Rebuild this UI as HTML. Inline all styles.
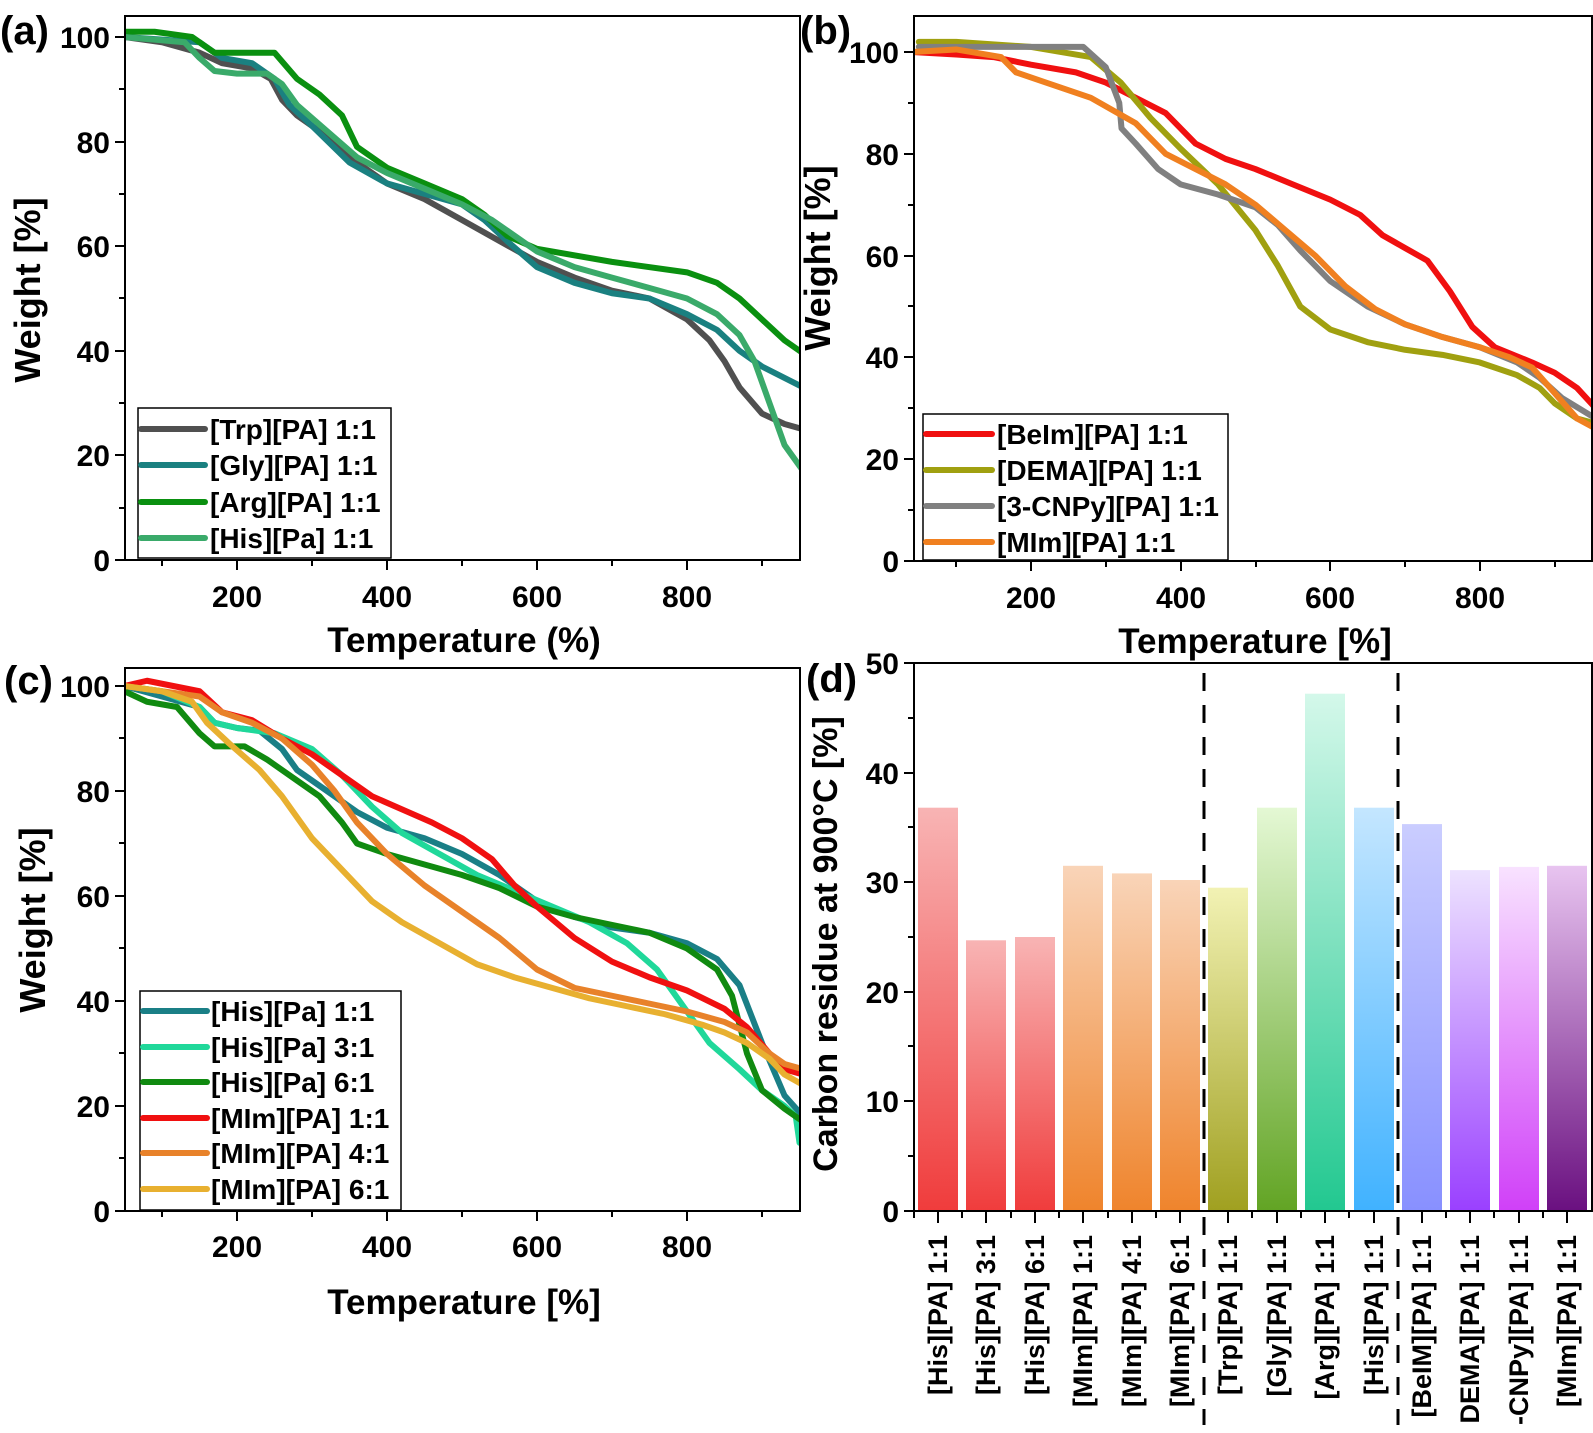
<!DOCTYPE html>
<html><head><meta charset="utf-8"><style>
html,body{margin:0;padding:0;background:#fff}
text{font-family:"Liberation Sans",Arial,sans-serif;font-weight:bold;fill:#000}
.tl{font-size:30px}
.al{font-size:35px}
.wl{font-size:36px}
.cl{font-size:34px}
.lg{font-size:28px}
.pl{font-size:40px}
.bl{font-size:27px}
polyline{fill:none;stroke-linejoin:round;stroke-linecap:round}
</style></head><body>
<svg width="1593" height="1428" viewBox="0 0 1593 1428" xmlns="http://www.w3.org/2000/svg">
<defs>
<clipPath id="ca"><rect x="125" y="16" width="675" height="544"/></clipPath>
<clipPath id="cb"><rect x="914" y="16" width="678" height="545"/></clipPath>
<clipPath id="cc"><rect x="125" y="668" width="675" height="543"/></clipPath>
<linearGradient id="g1" x1="0" y1="0" x2="0" y2="1"><stop offset="0" stop-color="#f8b4b4"/><stop offset="1" stop-color="#f03c3c"/></linearGradient>
<linearGradient id="g2" x1="0" y1="0" x2="0" y2="1"><stop offset="0" stop-color="#f9d4b8"/><stop offset="1" stop-color="#ef842c"/></linearGradient>
<linearGradient id="g3" x1="0" y1="0" x2="0" y2="1"><stop offset="0" stop-color="#f2f2b4"/><stop offset="1" stop-color="#a0a020"/></linearGradient>
<linearGradient id="g4" x1="0" y1="0" x2="0" y2="1"><stop offset="0" stop-color="#e4f8d4"/><stop offset="1" stop-color="#62a424"/></linearGradient>
<linearGradient id="g5" x1="0" y1="0" x2="0" y2="1"><stop offset="0" stop-color="#d4f8ea"/><stop offset="1" stop-color="#22c890"/></linearGradient>
<linearGradient id="g6" x1="0" y1="0" x2="0" y2="1"><stop offset="0" stop-color="#c4e6ff"/><stop offset="1" stop-color="#40b2ff"/></linearGradient>
<linearGradient id="g7" x1="0" y1="0" x2="0" y2="1"><stop offset="0" stop-color="#cacdff"/><stop offset="1" stop-color="#8890ff"/></linearGradient>
<linearGradient id="g8" x1="0" y1="0" x2="0" y2="1"><stop offset="0" stop-color="#ede2ff"/><stop offset="1" stop-color="#9a40ff"/></linearGradient>
<linearGradient id="g9" x1="0" y1="0" x2="0" y2="1"><stop offset="0" stop-color="#f8e2ff"/><stop offset="1" stop-color="#d040f8"/></linearGradient>
<linearGradient id="g10" x1="0" y1="0" x2="0" y2="1"><stop offset="0" stop-color="#e8c4f0"/><stop offset="1" stop-color="#6a1080"/></linearGradient>
</defs>

<!-- ===== Panel (a) ===== -->
<g clip-path="url(#ca)">
<g transform="matrix(0.75 0 0 -5.23 87 560)">
<polyline vector-effect="non-scaling-stroke" stroke-width="6" stroke="#505050" points="50,100 100,99 150,97 180,95 220,94 245,92 260,88 280,85 320,81 360,76 400,72 450,69 500,65 550,61 600,57 650,54 700,51.5 750,50 800,46 830,42 850,38 870,33 900,28 930,26 955,25"/>
<polyline vector-effect="non-scaling-stroke" stroke-width="6" stroke="#1a8080" points="50,100 150,99 180,96 220,95 250,92 270,87 300,83 350,76 400,72 450,70 500,68 530,65 560,61 600,56 650,53 700,51 750,50 800,47 840,44 870,40 900,37 955,33"/>
<polyline vector-effect="non-scaling-stroke" stroke-width="6" stroke="#0a9010" points="50,101 90,101 140,100 170,97 200,97 250,97 280,92 310,89 340,85 360,79 400,75 450,72 500,69 530,66 560,62 600,59.5 700,57 800,55 840,53 870,50 900,46 930,42 955,39.5"/>
<polyline vector-effect="non-scaling-stroke" stroke-width="6" stroke="#3aaa6a" points="50,100 130,99 150,96 170,93.5 200,93 240,93 260,91 280,87 320,82 360,77 400,74 450,71 500,68 540,65 570,62 600,59 650,56 700,54 750,52 800,50 840,47 870,43 890,38 910,30 930,22 955,17"/>
</g></g>
<rect x="125" y="16" width="675" height="544" fill="none" stroke="#000" stroke-width="2"/>
<g stroke="#000" stroke-width="2">
<line x1="115" y1="560" x2="125" y2="560"/><line x1="115" y1="455" x2="125" y2="455"/><line x1="115" y1="351" x2="125" y2="351"/><line x1="115" y1="246" x2="125" y2="246"/><line x1="115" y1="142" x2="125" y2="142"/><line x1="115" y1="37" x2="125" y2="37"/>
<line x1="119" y1="508" x2="125" y2="508"/><line x1="119" y1="403" x2="125" y2="403"/><line x1="119" y1="298" x2="125" y2="298"/><line x1="119" y1="194" x2="125" y2="194"/><line x1="119" y1="89" x2="125" y2="89"/>
<line x1="237" y1="560" x2="237" y2="570"/><line x1="387" y1="560" x2="387" y2="570"/><line x1="537" y1="560" x2="537" y2="570"/><line x1="687" y1="560" x2="687" y2="570"/>
<line x1="162" y1="560" x2="162" y2="566"/><line x1="312" y1="560" x2="312" y2="566"/><line x1="462" y1="560" x2="462" y2="566"/><line x1="612" y1="560" x2="612" y2="566"/><line x1="762" y1="560" x2="762" y2="566"/>
</g>
<g text-anchor="end">
<text x="110" y="571" class="tl">0</text><text x="110" y="466" class="tl">20</text><text x="110" y="362" class="tl">40</text><text x="110" y="257" class="tl">60</text><text x="110" y="153" class="tl">80</text><text x="110" y="48" class="tl">100</text>
</g>
<g text-anchor="middle">
<text x="237" y="607" class="tl">200</text><text x="387" y="607" class="tl">400</text><text x="537" y="607" class="tl">600</text><text x="687" y="607" class="tl">800</text>
<text x="464" y="652" class="al">Temperature (%)</text>
<text transform="translate(40 290) rotate(-90)" class="wl">Weight [%]</text>
</g>
<text x="0" y="44" class="pl">(a)</text>
<rect x="138" y="408" width="253" height="150" fill="#fff" stroke="#000" stroke-width="1.5"/>
<g stroke-width="6" stroke-linecap="round">
<line x1="141" y1="429" x2="205" y2="429" stroke="#505050"/>
<line x1="141" y1="465" x2="205" y2="465" stroke="#1a8080"/>
<line x1="141" y1="502" x2="205" y2="502" stroke="#0a9010"/>
<line x1="141" y1="538" x2="205" y2="538" stroke="#3aaa6a"/>
</g>
<text x="210" y="439" class="lg">[Trp][PA] 1:1</text>
<text x="210" y="475" class="lg">[Gly][PA] 1:1</text>
<text x="210" y="512" class="lg">[Arg][PA] 1:1</text>
<text x="210" y="548" class="lg">[His][Pa] 1:1</text>

<!-- ===== Panel (b) ===== -->
<g clip-path="url(#cb)">
<g transform="matrix(0.748 0 0 -5.09 881.4 561)">
<polyline vector-effect="non-scaling-stroke" stroke-width="6" stroke="#f01010" points="40,100 100,99.5 150,99 200,97.5 260,96 300,94 340,91 380,88 420,82 460,79 500,77 550,74 600,71 640,68 670,64 700,61.5 730,59 760,53 790,46 820,42 870,39 900,37 930,34 955,30"/>
<polyline vector-effect="non-scaling-stroke" stroke-width="6" stroke="#a0a010" points="50,102 100,102 200,101 280,99 320,94 360,87 400,81 450,74 500,65 530,58 560,50 600,45.5 650,43 700,41.5 750,40.5 800,39 850,36.5 880,34 900,31 930,28 955,27"/>
<polyline vector-effect="non-scaling-stroke" stroke-width="6" stroke="#808080" points="50,101 100,101 200,101 270,101 300,97 318,90 321,85 340,82 370,77 400,74 450,72 500,69.5 530,66 560,61 600,55 650,50 700,46.5 750,44 800,42 850,39 880,36 910,32 955,28"/>
<polyline vector-effect="non-scaling-stroke" stroke-width="6" stroke="#f08020" points="40,100 100,100.5 160,99 180,96 220,94 280,91 340,86 380,80 420,77 460,74 500,70 540,65 580,60 620,54 660,49.5 700,46.5 750,44 800,42 840,40 870,38 900,33 930,28 955,26"/>
</g></g>
<rect x="914" y="16" width="678" height="545" fill="none" stroke="#000" stroke-width="2"/>
<g stroke="#000" stroke-width="2">
<line x1="904" y1="561" x2="914" y2="561"/><line x1="904" y1="459" x2="914" y2="459"/><line x1="904" y1="357" x2="914" y2="357"/><line x1="904" y1="256" x2="914" y2="256"/><line x1="904" y1="154" x2="914" y2="154"/><line x1="904" y1="52" x2="914" y2="52"/>
<line x1="908" y1="510" x2="914" y2="510"/><line x1="908" y1="408" x2="914" y2="408"/><line x1="908" y1="306" x2="914" y2="306"/><line x1="908" y1="205" x2="914" y2="205"/><line x1="908" y1="103" x2="914" y2="103"/>
<line x1="1031" y1="561" x2="1031" y2="571"/><line x1="1181" y1="561" x2="1181" y2="571"/><line x1="1330" y1="561" x2="1330" y2="571"/><line x1="1480" y1="561" x2="1480" y2="571"/>
<line x1="956" y1="561" x2="956" y2="567"/><line x1="1106" y1="561" x2="1106" y2="567"/><line x1="1256" y1="561" x2="1256" y2="567"/><line x1="1405" y1="561" x2="1405" y2="567"/><line x1="1555" y1="561" x2="1555" y2="567"/>
</g>
<g text-anchor="end">
<text x="899" y="572" class="tl">0</text><text x="899" y="470" class="tl">20</text><text x="899" y="368" class="tl">40</text><text x="899" y="267" class="tl">60</text><text x="899" y="165" class="tl">80</text><text x="899" y="63" class="tl">100</text>
</g>
<g text-anchor="middle">
<text x="1031" y="608" class="tl">200</text><text x="1181" y="608" class="tl">400</text><text x="1330" y="608" class="tl">600</text><text x="1480" y="608" class="tl">800</text>
<text x="1255" y="653" class="al">Temperature [%]</text>
<text transform="translate(830 258) rotate(-90)" class="wl">Weight [%]</text>
</g>
<text x="800" y="44" class="pl">(b)</text>
<rect x="923" y="414" width="305" height="146" fill="#fff" stroke="#000" stroke-width="1.5"/>
<g stroke-width="6" stroke-linecap="round">
<line x1="926" y1="434" x2="992" y2="434" stroke="#f01010"/>
<line x1="926" y1="470" x2="992" y2="470" stroke="#a0a010"/>
<line x1="926" y1="506" x2="992" y2="506" stroke="#808080"/>
<line x1="926" y1="542" x2="992" y2="542" stroke="#f08020"/>
</g>
<text x="997" y="444" class="lg">[BeIm][PA] 1:1</text>
<text x="997" y="480" class="lg">[DEMA][PA] 1:1</text>
<text x="997" y="516" class="lg">[3-CNPy][PA] 1:1</text>
<text x="997" y="552" class="lg">[MIm][PA] 1:1</text>

<!-- ===== Panel (c) ===== -->
<g clip-path="url(#cc)">
<g transform="matrix(0.75 0 0 -5.25 87 1211)">
<polyline vector-effect="non-scaling-stroke" stroke-width="6" stroke="#1a7f86" points="50,100 100,98 150,96 170,93 200,92 230,91.5 260,88 280,84 320,80 360,76 400,73 450,71 500,68 550,64 600,59 650,56 700,54 750,53 800,51 840,48 870,43 900,32 930,22 955,18"/>
<polyline vector-effect="non-scaling-stroke" stroke-width="6" stroke="#20d89a" points="50,100 100,99 150,96 170,93 200,92 250,91 300,88 340,83 380,77 420,72 470,68 520,64 570,61 620,58 670,55 720,51 760,46 800,38 830,32 870,27 900,23 930,20 945,18 950,13"/>
<polyline vector-effect="non-scaling-stroke" stroke-width="6" stroke="#108a10" points="50,99 80,97 120,96 150,91 170,88.5 210,88.5 240,86 280,82 310,79 340,74 360,70 400,68 450,66 500,64 550,61.5 600,58 650,56 700,54.5 750,53 800,50 840,46 860,41 880,30 900,23 930,19.5 955,17"/>
<polyline vector-effect="non-scaling-stroke" stroke-width="6" stroke="#f01010" points="50,100 80,101 150,99 180,95 220,93.5 260,90 300,87 340,83 380,79 420,76.5 460,74 500,71 540,67 570,62 600,58 650,52 700,47.5 750,44.5 800,42 850,38.5 880,35 910,30 930,27 955,26"/>
<polyline vector-effect="non-scaling-stroke" stroke-width="6" stroke="#e8822a" points="50,100 100,99 150,98 180,95 220,93 260,90 300,85 330,80 360,74 400,68 450,62 500,57 550,52 600,46 650,42.5 700,41 750,39.5 800,38 850,36 880,34 910,30 930,28 955,27"/>
<polyline vector-effect="non-scaling-stroke" stroke-width="6" stroke="#e8b030" points="50,100 100,99 140,97 160,93 190,89 230,84 260,79 300,71 340,65 380,59 420,55 470,51 520,47 570,44.5 620,42.5 670,40.5 720,39 770,37.5 820,35.5 850,34 880,32 910,29 930,26 955,24"/>
</g></g>
<rect x="125" y="668" width="675" height="543" fill="none" stroke="#000" stroke-width="2"/>
<g stroke="#000" stroke-width="2">
<line x1="115" y1="1211" x2="125" y2="1211"/><line x1="115" y1="1106" x2="125" y2="1106"/><line x1="115" y1="1001" x2="125" y2="1001"/><line x1="115" y1="896" x2="125" y2="896"/><line x1="115" y1="791" x2="125" y2="791"/><line x1="115" y1="686" x2="125" y2="686"/>
<line x1="119" y1="1158" x2="125" y2="1158"/><line x1="119" y1="1053" x2="125" y2="1053"/><line x1="119" y1="948" x2="125" y2="948"/><line x1="119" y1="843" x2="125" y2="843"/><line x1="119" y1="738" x2="125" y2="738"/>
<line x1="237" y1="1211" x2="237" y2="1221"/><line x1="387" y1="1211" x2="387" y2="1221"/><line x1="537" y1="1211" x2="537" y2="1221"/><line x1="687" y1="1211" x2="687" y2="1221"/>
<line x1="162" y1="1211" x2="162" y2="1217"/><line x1="312" y1="1211" x2="312" y2="1217"/><line x1="462" y1="1211" x2="462" y2="1217"/><line x1="612" y1="1211" x2="612" y2="1217"/><line x1="762" y1="1211" x2="762" y2="1217"/>
</g>
<g text-anchor="end">
<text x="110" y="1222" class="tl">0</text><text x="110" y="1117" class="tl">20</text><text x="110" y="1012" class="tl">40</text><text x="110" y="907" class="tl">60</text><text x="110" y="802" class="tl">80</text><text x="110" y="697" class="tl">100</text>
</g>
<g text-anchor="middle">
<text x="237" y="1257" class="tl">200</text><text x="387" y="1257" class="tl">400</text><text x="537" y="1257" class="tl">600</text><text x="687" y="1257" class="tl">800</text>
<text x="464" y="1314" class="al">Temperature [%]</text>
<text transform="translate(45 920) rotate(-90)" class="wl">Weight [%]</text>
</g>
<text x="4" y="694" class="pl">(c)</text>
<rect x="140" y="991" width="261" height="219" fill="#fff" stroke="#000" stroke-width="1.5"/>
<g stroke-width="6" stroke-linecap="round">
<line x1="143" y1="1011" x2="207" y2="1011" stroke="#1a7f86"/>
<line x1="143" y1="1047" x2="207" y2="1047" stroke="#20d89a"/>
<line x1="143" y1="1082" x2="207" y2="1082" stroke="#108a10"/>
<line x1="143" y1="1118" x2="207" y2="1118" stroke="#f01010"/>
<line x1="143" y1="1153" x2="207" y2="1153" stroke="#e8822a"/>
<line x1="143" y1="1189" x2="207" y2="1189" stroke="#e8b030"/>
</g>
<text x="211" y="1021" class="lg">[His][Pa] 1:1</text>
<text x="211" y="1057" class="lg">[His][Pa] 3:1</text>
<text x="211" y="1092" class="lg">[His][Pa] 6:1</text>
<text x="211" y="1128" class="lg">[MIm][PA] 1:1</text>
<text x="211" y="1163" class="lg">[MIm][PA] 4:1</text>
<text x="211" y="1199" class="lg">[MIm][PA] 6:1</text>

<!-- ===== Panel (d) ===== -->
<g>
<rect x="918" y="807.7" width="40" height="403.3" fill="url(#g1)"/>
<rect x="966" y="940.3" width="40" height="270.7" fill="url(#g1)"/>
<rect x="1015" y="937" width="40" height="274" fill="url(#g1)"/>
<rect x="1063" y="865.8" width="40" height="345.2" fill="url(#g2)"/>
<rect x="1112" y="873.4" width="40" height="337.6" fill="url(#g2)"/>
<rect x="1160" y="880" width="40" height="331" fill="url(#g2)"/>
<rect x="1208" y="887.7" width="40" height="323.3" fill="url(#g3)"/>
<rect x="1257" y="807.7" width="40" height="403.3" fill="url(#g4)"/>
<rect x="1305" y="693.7" width="40" height="517.3" fill="url(#g5)"/>
<rect x="1354" y="807.7" width="40" height="403.3" fill="url(#g6)"/>
<rect x="1402" y="824.1" width="40" height="386.9" fill="url(#g7)"/>
<rect x="1450" y="870.1" width="40" height="340.9" fill="url(#g8)"/>
<rect x="1499" y="866.9" width="40" height="344.1" fill="url(#g9)"/>
<rect x="1547" y="865.8" width="40" height="345.2" fill="url(#g10)"/>
</g>
<line x1="1204" y1="673" x2="1204" y2="1425" stroke="#000" stroke-width="3" stroke-dasharray="18,14"/>
<line x1="1398" y1="673" x2="1398" y2="1425" stroke="#000" stroke-width="3" stroke-dasharray="18,14"/>
<rect x="914" y="663" width="678" height="548" fill="none" stroke="#000" stroke-width="2"/>
<g stroke="#000" stroke-width="2">
<line x1="904" y1="1211" x2="914" y2="1211"/><line x1="904" y1="1101" x2="914" y2="1101"/><line x1="904" y1="992" x2="914" y2="992"/><line x1="904" y1="882" x2="914" y2="882"/><line x1="904" y1="773" x2="914" y2="773"/><line x1="904" y1="663" x2="914" y2="663"/>
<line x1="908" y1="1156" x2="914" y2="1156"/><line x1="908" y1="1046" x2="914" y2="1046"/><line x1="908" y1="937" x2="914" y2="937"/><line x1="908" y1="827" x2="914" y2="827"/><line x1="908" y1="718" x2="914" y2="718"/>
<line x1="938" y1="1211" x2="938" y2="1223"/><line x1="986" y1="1211" x2="986" y2="1223"/><line x1="1035" y1="1211" x2="1035" y2="1223"/><line x1="1083" y1="1211" x2="1083" y2="1223"/><line x1="1132" y1="1211" x2="1132" y2="1223"/><line x1="1180" y1="1211" x2="1180" y2="1223"/><line x1="1228" y1="1211" x2="1228" y2="1223"/><line x1="1277" y1="1211" x2="1277" y2="1223"/><line x1="1325" y1="1211" x2="1325" y2="1223"/><line x1="1374" y1="1211" x2="1374" y2="1223"/><line x1="1422" y1="1211" x2="1422" y2="1223"/><line x1="1470" y1="1211" x2="1470" y2="1223"/><line x1="1519" y1="1211" x2="1519" y2="1223"/><line x1="1567" y1="1211" x2="1567" y2="1223"/>
<line x1="914" y1="1211" x2="914" y2="1218"/><line x1="962" y1="1211" x2="962" y2="1218"/><line x1="1011" y1="1211" x2="1011" y2="1218"/><line x1="1059" y1="1211" x2="1059" y2="1218"/><line x1="1108" y1="1211" x2="1108" y2="1218"/><line x1="1156" y1="1211" x2="1156" y2="1218"/><line x1="1252" y1="1211" x2="1252" y2="1218"/><line x1="1301" y1="1211" x2="1301" y2="1218"/><line x1="1349" y1="1211" x2="1349" y2="1218"/><line x1="1446" y1="1211" x2="1446" y2="1218"/><line x1="1494" y1="1211" x2="1494" y2="1218"/><line x1="1543" y1="1211" x2="1543" y2="1218"/>
</g>
<g text-anchor="end">
<text x="899" y="1222" class="tl">0</text><text x="899" y="1112" class="tl">10</text><text x="899" y="1003" class="tl">20</text><text x="899" y="893" class="tl">30</text><text x="899" y="784" class="tl">40</text><text x="899" y="674" class="tl">50</text>
</g>
<text transform="translate(837 944) rotate(-90)" text-anchor="middle" class="cl">Carbon residue at 900°C [%]</text>
<text x="806" y="692" class="pl">(d)</text>
<g text-anchor="end">
<text transform="translate(947 1235) rotate(-90)" class="bl">[His][PA] 1:1</text>
<text transform="translate(995 1235) rotate(-90)" class="bl">[His][PA] 3:1</text>
<text transform="translate(1044 1235) rotate(-90)" class="bl">[His][PA] 6:1</text>
<text transform="translate(1092 1235) rotate(-90)" class="bl">[MIm][PA] 1:1</text>
<text transform="translate(1141 1235) rotate(-90)" class="bl">[MIm][PA] 4:1</text>
<text transform="translate(1189 1235) rotate(-90)" class="bl">[MIm][PA] 6:1</text>
<text transform="translate(1237 1235) rotate(-90)" class="bl">[Trp][PA] 1:1</text>
<text transform="translate(1286 1235) rotate(-90)" class="bl">[Gly][PA] 1:1</text>
<text transform="translate(1334 1235) rotate(-90)" class="bl">[Arg][PA] 1:1</text>
<text transform="translate(1383 1235) rotate(-90)" class="bl">[His][PA] 1:1</text>
<text transform="translate(1431 1235) rotate(-90)" class="bl">[BeIM][PA] 1:1</text>
<text transform="translate(1479 1235) rotate(-90)" class="bl">DEMA][PA] 1:1</text>
<text transform="translate(1528 1235) rotate(-90)" class="bl">-CNPy][PA] 1:1</text>
<text transform="translate(1576 1235) rotate(-90)" class="bl">[MIm][PA] 1:1</text>
</g>
</svg>
</body></html>
